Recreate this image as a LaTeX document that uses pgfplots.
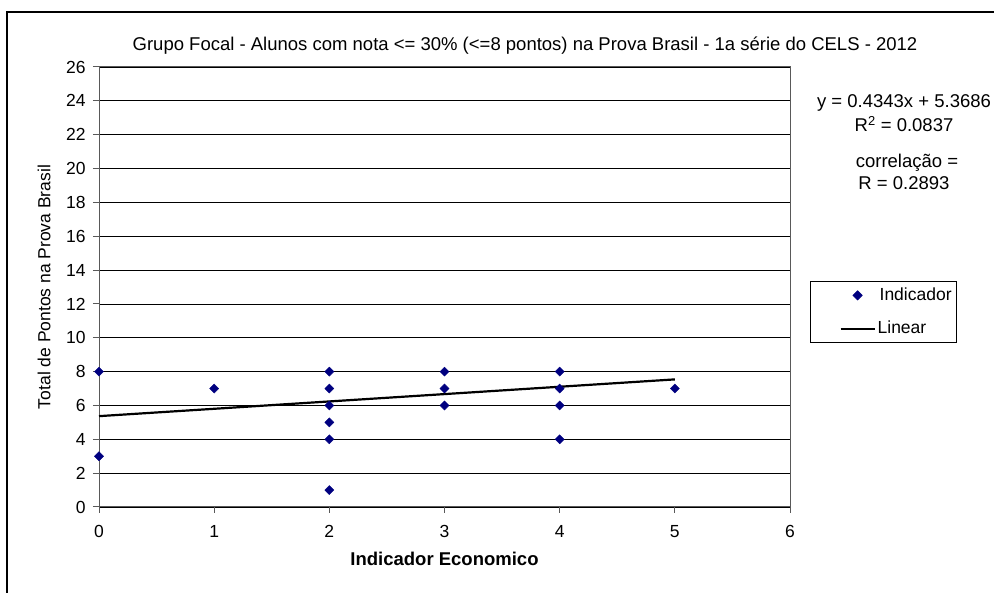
\documentclass[border=0pt]{standalone}
\usepackage{pgfplots}
\pgfplotsset{compat=1.18}
\usepackage{fontspec}
\setmainfont{Liberation Sans}
\definecolor{navyd}{RGB}{0,0,128}
\pgfplotsset{
  scatleg/.style={legend image code/.code={\path (0bp,0bp) (60bp,0bp);\draw[mark repeat=2,mark phase=2,##1] plot coordinates {(26bp,0bp)(43bp,0bp)(60bp,0bp)};}},
  lineleg/.style={legend image code/.code={\path (0bp,0bp);\draw[##1] (26bp,0bp) -- (60bp,0bp);}},
}
\newcommand\fbig{\fontsize{18.5bp}{22bp}\selectfont}
\newcommand\fmid{\fontsize{17.5bp}{21bp}\selectfont}
\begin{document}
\fbig
\begin{tikzpicture}
\begin{axis}[
  width=691bp, height=440bp, scale only axis,
  xmin=0, xmax=6, ymin=0, ymax=26,
  xtick={0,1,2,3,4,5,6}, ytick={0,2,...,26},
  tick align=outside, tick pos=left,
  major tick length=6bp,
  ymajorgrids, grid style={black, line width=0.8bp},
  axis line style={gray!70!black, line width=1bp},
  tick style={gray!70!black, line width=1bp},
  /pgf/number format/assume math mode=true,
  ticklabel style={font=\fmid},
  xticklabel style={yshift=-6bp},
  yticklabel style={xshift=-1bp},
  xlabel={\textbf{Indicador Economico}},
  ylabel={Total de Pontos na Prova Brasil},
  xlabel style={font=\fbig, yshift=-2bp},
  ylabel style={font=\fmid, at={(axis description cs:-0.061,0.5)}},
  clip=false,
  legend style={at={(rel axis cs:1.029,0.513)}, anchor=north west, draw=black, line width=0.8bp, fill=white,
    font=\fmid, inner xsep=3bp, inner ysep=4bp, row sep=14bp,
    /tikz/every even column/.append style={column sep=0bp}},
  legend cell align=left,
]
\addplot[only marks, mark=square*, mark size=3.2bp, mark options={rotate=45}, color=navyd, scatleg]
  coordinates {
  (0,8) (0,3)
  (1,7)
  (2,8) (2,7) (2,6) (2,5) (2,4) (2,1)
  (3,8) (3,7) (3,6)
  (4,8) (4,7) (4,6) (4,4)
  (5,7)
  };
\addlegendentry{\hspace{2bp}Indicador}
\addplot[black, line width=2.2bp, no marks, lineleg]
  coordinates {(0,5.3686) (5,7.5401)};
\addlegendentry{Linear}
\end{axis}
\begin{scope}[x=1bp,y=1bp,shift={(-99bp,-86bp)}]
\path[use as bounding box] (0,0) rectangle (994,593);
\draw[black, line width=1.2bp] (7,0) -- (7,581) -- (994,581);
\node[font=\fbig] at (525,547) {Grupo Focal - Alunos com nota <= 30\% (<=8 pontos) na Prova Brasil - 1a série do CELS - 2012};
\node[font=\fbig] at (904,490) {y = 0.4343x + 5.3686};
\node[font=\fbig] at (904,469) {R\textsuperscript{2} = 0.0837};
\node[font=\fbig] at (907,430) {correlação =};
\node[font=\fbig] at (904,410) {R = 0.2893};
\end{scope}
\end{tikzpicture}
\end{document}
